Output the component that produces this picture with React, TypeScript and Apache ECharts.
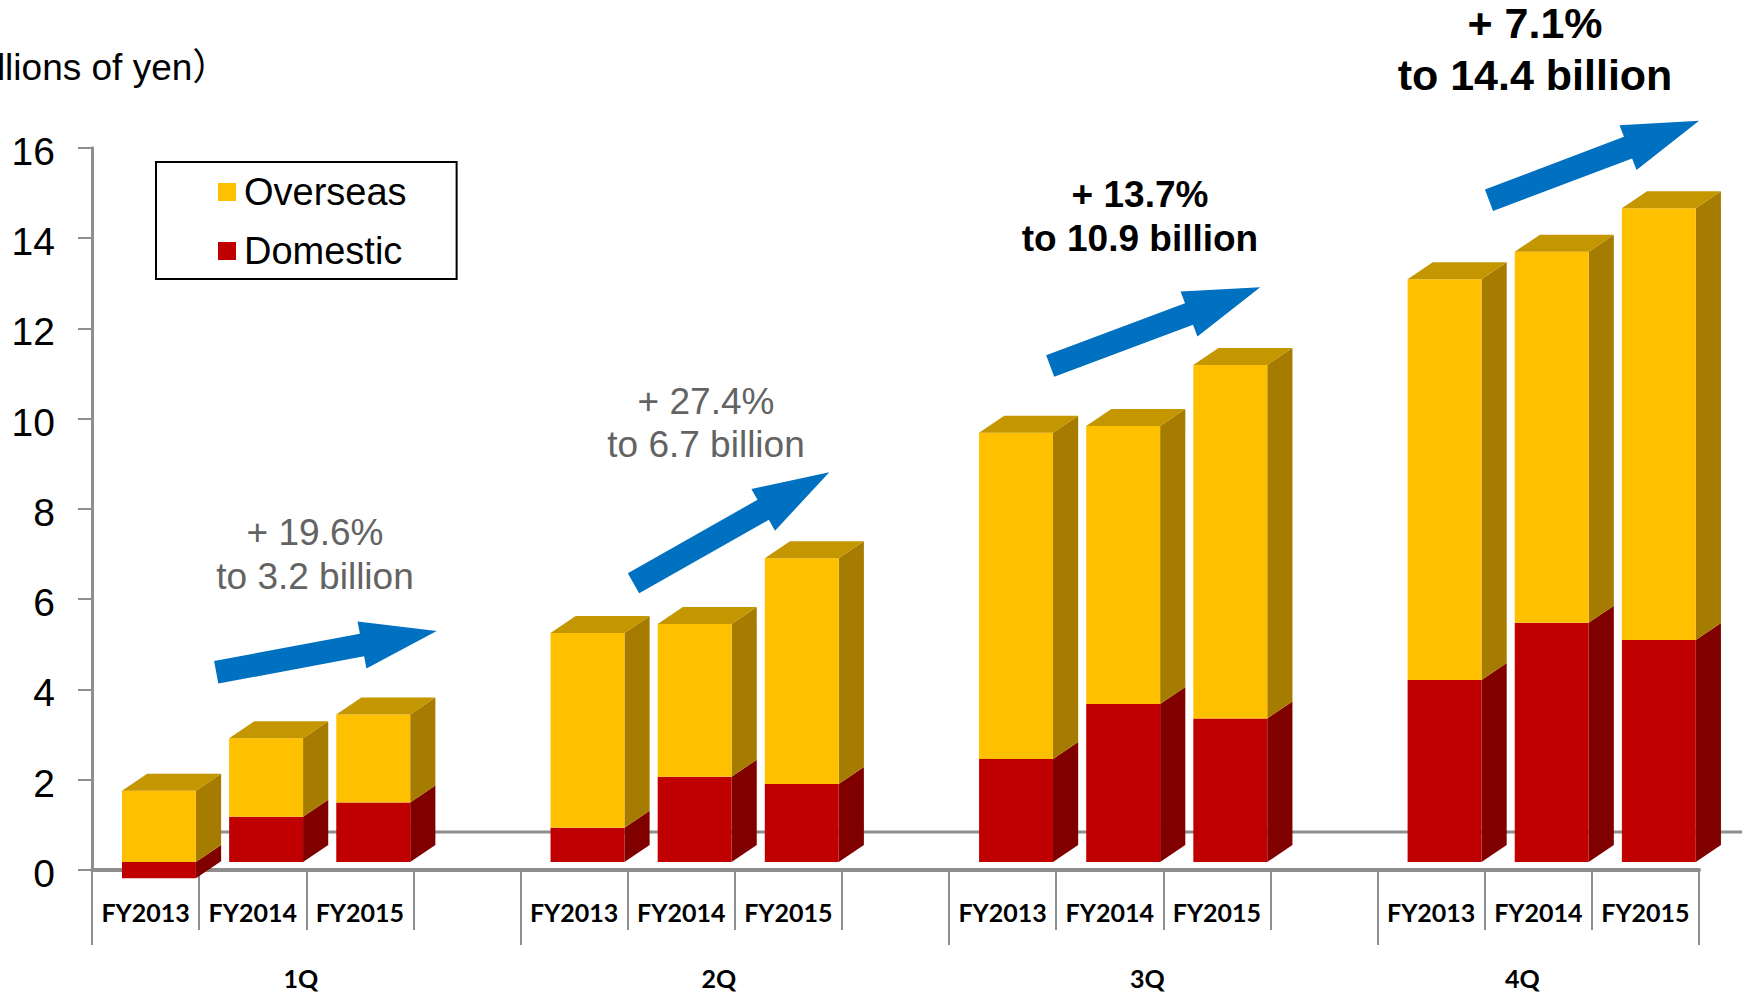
import React, { useEffect, useRef } from 'react';
import * as echarts from 'echarts';

// ---------------- data ----------------
const QUARTERS = ['1Q', '2Q', '3Q', '4Q'];
const YEARS = ['FY2013', 'FY2014', 'FY2015'];
// billions of yen, ordered 1Q FY2013..FY2015, 2Q ..., 4Q ...
const DOMESTIC = [-0.36, 1.0, 1.32, 0.76, 1.89, 1.73, 2.28, 3.5, 3.18, 4.03, 5.3, 4.92];
const OVERSEAS = [1.58, 1.74, 1.95, 4.31, 3.38, 5.0, 7.23, 6.16, 7.83, 8.88, 8.22, 9.56];
const GROWTH = ['+ 19.6%', '+ 27.4%', '+ 13.7%', '+ 7.1%'];
const REACHED = ['to 3.2 billion', 'to 6.7 billion', 'to 10.9 billion', 'to 14.4 billion'];
const Y_MIN = 0;
const Y_MAX = 16;
const Y_INTERVAL = 2;
const UNIT_LABEL = '（Billions of yen）';
const SERIES_NAMES = ['Overseas', 'Domestic'];

// ---------------- layout / style ----------------
const ARIAL = "'Liberation Sans', Arial, 'Noto Sans CJK JP', sans-serif";
const CAT_FONT = "Lato, 'Open Sans', sans-serif";
const GREY = '#8e8e8e';
const C_OV = { front: '#FFC000', side: '#A67C00', top: '#C49600' };
const C_DOM = { front: '#C00000', side: '#800000', top: '#A00000' };
const FLOOR = 8; // front-face floor offset (px) of the 3-D look
const DEPTH_Y = 17;
const SUB = 10; // subdivisions for the group label axis
const GROUP_LABEL_CENTER = [1.95, 5.85, 9.85, 13.35]; // in slot units
const ANN_LAYOUT = [
  { x: 315, y: 554.5, size: 37, bold: false, color: '#636363', lh: 44.5 },
  { x: 706, y: 423, size: 37, bold: false, color: '#636363', lh: 43.5 },
  { x: 1140, y: 216.5, size: 37, bold: true, color: '#000000', lh: 44.5 },
  { x: 1535, y: 49.2, size: 43, bold: true, color: '#000000', lh: 52.5 },
];
const ARROWS = [
  { tail: [216.2, 672.3], tip: [436.7, 631] },
  { tail: [633.5, 583.3], tip: [829.3, 472.3] },
  { tail: [1050.2, 365.9], tip: [1260.2, 287.3] },
  { tail: [1489, 200.3], tip: [1699.1, 120.7] },
];
const SHAFT_W = 23;
const HEAD_W = 48;
const HEAD_L = 76;

// build slots
const SLOT_LABELS: string[] = [];
const SLOT_OF_BAR: number[] = [];
const GROUP_START: number[] = [];
QUARTERS.forEach((_, qi) => {
  GROUP_START.push(SLOT_LABELS.length);
  YEARS.forEach((y) => {
    SLOT_OF_BAR.push(SLOT_LABELS.length);
    SLOT_LABELS.push(y);
  });
  if (qi < QUARTERS.length - 1) SLOT_LABELS.push('');
});
const FINE_LABELS: string[] = new Array(SLOT_LABELS.length * SUB).fill('');
QUARTERS.forEach((q, qi) => {
  FINE_LABELS[Math.round(GROUP_LABEL_CENTER[qi] * SUB - 0.5)] = q;
});
const GROUP_TICKS = new Set(GROUP_START.map((s) => s * SUB));

function arrowPoints(tail: number[], tip: number[]) {
  const dx = tip[0] - tail[0];
  const dy = tip[1] - tail[1];
  const L = Math.hypot(dx, dy);
  const ux = dx / L, uy = dy / L;
  const nx = -uy, ny = ux;
  const neck = [tip[0] - ux * HEAD_L, tip[1] - uy * HEAD_L];
  const p = (b: number[], w: number) => [b[0] + nx * w, b[1] + ny * w];
  return [
    p(tail, SHAFT_W / 2),
    p(neck, SHAFT_W / 2),
    p(neck, HEAD_W / 2),
    tip,
    p(neck, -HEAD_W / 2),
    p(neck, -SHAFT_W / 2),
    p(tail, -SHAFT_W / 2),
  ];
}

function box(api: any, slot: number, from: number, to: number, colors: any, withTop: boolean) {
  const band = api.size([1, 0])[0];
  const cx = api.coord([slot, 0])[0];
  const left = cx - 0.22 * band;
  const w = 0.69 * band;
  const dx = 0.235 * band;
  const right = left + w;
  const y1 = api.coord([slot, from])[1] - FLOOR;
  const y2 = api.coord([slot, to])[1] - FLOOR;
  const top = Math.min(y1, y2);
  const bot = Math.max(y1, y2);
  const children: any[] = [
    {
      type: 'polygon',
      shape: { points: [[right, top], [right + dx, top - DEPTH_Y], [right + dx, bot - DEPTH_Y], [right, bot]] },
      style: { fill: colors.side },
    },
    { type: 'rect', shape: { x: left, y: top, width: w, height: bot - top }, style: { fill: colors.front } },
  ];
  if (withTop) {
    children.push({
      type: 'polygon',
      shape: { points: [[left, top], [right, top], [right + dx, top - DEPTH_Y], [left + dx, top - DEPTH_Y]] },
      style: { fill: colors.top },
    });
  }
  return { type: 'group', children };
}

export default function App() {
  const ref = useRef<HTMLDivElement>(null);
  useEffect(() => {
    if (!ref.current) return;
    const chart = echarts.init(ref.current, undefined, { renderer: 'svg' });

    const graphic: any[] = [
      {
        type: 'line',
        z: 0,
        shape: { x1: 125, y1: 832, x2: 1742, y2: 832 },
        style: { stroke: GREY, lineWidth: 3 },
      },
      {
        type: 'text',
        x: -73,
        y: 67.5,
        style: {
          text: UNIT_LABEL,
          fontSize: 37,
          fontFamily: ARIAL,
          fill: '#000',
          align: 'left',
          verticalAlign: 'middle',
          textAlign: 'left',
          textVerticalAlign: 'middle',
        },
      },
    ];
    ARROWS.forEach((a) => {
      graphic.push({
        type: 'polygon',
        z: 10,
        shape: { points: arrowPoints(a.tail, a.tip) },
        style: { fill: '#0070C0' },
      });
    });
    ANN_LAYOUT.forEach((l, i) => {
      graphic.push({
        type: 'text',
        z: 10,
        x: l.x,
        y: l.y,
        style: {
          text: GROWTH[i] + '\n' + REACHED[i],
          fontSize: l.size,
          fontWeight: l.bold ? 'bold' : 'normal',
          fontFamily: ARIAL,
          fill: l.color,
          lineHeight: l.lh,
          align: 'center',
          verticalAlign: 'middle',
          textAlign: 'center',
          textVerticalAlign: 'middle',
        },
      });
    });

    const option: any = {
      animation: false,
      backgroundColor: '#ffffff',
      grid: { left: 92, right: 43, top: 147.7, bottom: 123, containLabel: false },
      legend: {
        orient: 'vertical',
        left: 156,
        top: 162,
        data: SERIES_NAMES,
        icon: 'rect',
        itemWidth: 18,
        itemHeight: 18,
        itemGap: 21,
        borderColor: '#000',
        borderWidth: 2,
        padding: [11, 50, 9, 62],
        selectedMode: false,
        textStyle: { fontSize: 38, color: '#000', fontFamily: ARIAL, padding: [0, 0, 0, 3] },
      },
      xAxis: [
        {
          type: 'category',
          data: SLOT_LABELS,
          position: 'bottom',
          boundaryGap: true,
          axisLine: { show: true, onZero: false, lineStyle: { color: GREY, width: 4 } },
          axisTick: { show: true, interval: 0, length: 60, lineStyle: { color: GREY, width: 2 } },
          axisLabel: {
            interval: 0,
            fontSize: 25,
            fontWeight: 'bold',
            fontFamily: CAT_FONT,
            color: '#000',
            margin: 29,
          },
          splitLine: { show: false },
        },
        {
          type: 'category',
          data: FINE_LABELS,
          position: 'bottom',
          boundaryGap: true,
          axisLine: { show: false },
          axisTick: {
            show: true,
            interval: (i: number) => GROUP_TICKS.has(i),
            length: 75,
            lineStyle: { color: GREY, width: 2 },
          },
          axisLabel: {
            interval: 0,
            fontSize: 25,
            fontWeight: 'bold',
            fontFamily: CAT_FONT,
            color: '#000',
            margin: 95,
          },
          splitLine: { show: false },
        },
      ],
      yAxis: {
        type: 'value',
        min: Y_MIN,
        max: Y_MAX,
        interval: Y_INTERVAL,
        axisLine: { show: true, lineStyle: { color: GREY, width: 3 } },
        axisTick: { show: true, length: 14, lineStyle: { color: GREY, width: 2 } },
        axisLabel: {
          fontSize: 39,
          color: '#000',
          fontFamily: ARIAL,
          margin: 37,
          formatter: '{v|{value}}',
          rich: { v: { fontSize: 39, fontFamily: ARIAL, color: '#000', lineHeight: 46, verticalAlign: 'bottom' } },
        },
        splitLine: { show: false },
      },
      graphic,
      series: [
        {
          type: 'custom',
          name: SERIES_NAMES[1],
          xAxisIndex: 0,
          yAxisIndex: 0,
          itemStyle: { color: C_DOM.front },
          encode: { x: 0, y: 1 },
          data: DOMESTIC.map((v, i) => [SLOT_OF_BAR[i], v]),
          renderItem: (_p: any, api: any) => box(api, api.value(0), 0, api.value(1), C_DOM, false),
        },
        {
          type: 'custom',
          name: SERIES_NAMES[0],
          xAxisIndex: 0,
          yAxisIndex: 0,
          itemStyle: { color: C_OV.front },
          encode: { x: 0, y: 1 },
          data: OVERSEAS.map((v, i) => [SLOT_OF_BAR[i], v, DOMESTIC[i]]),
          renderItem: (_p: any, api: any) => {
            const base = Math.max(api.value(2), 0);
            return box(api, api.value(0), base, base + api.value(1), C_OV, true);
          },
        },
      ],
    };
    chart.setOption(option);
    return () => chart.dispose();
  }, []);
  return (
    <div
      ref={ref}
      style={{ position: 'absolute', left: 0, top: 0, width: 1742, height: 993, background: '#fff' }}
    />
  );
}
